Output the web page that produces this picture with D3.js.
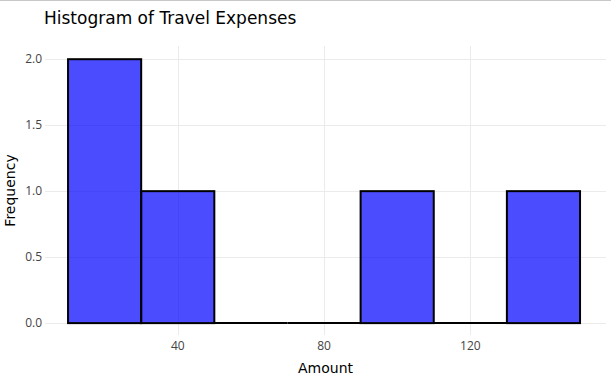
<!DOCTYPE html>
<html>
<head>
<meta charset="utf-8">
<script src="https://cdn.jsdelivr.net/npm/d3@7"></script>
<style>
  body { margin: 0; background: #fff; }
  svg { font-family: "DejaVu Sans", Verdana, sans-serif; display: block; }
  .grid line { stroke: #ebebeb; stroke-width: 1; }
  .ticklabel { fill: #444; font-size: 12px; font-family: "Open Sans", sans-serif; }
</style>
</head>
<body>
<div id="chart"></div>
<script>
// histogram bins (Amount), counts per bin
var binStarts = [10, 30, 50, 70, 90, 110, 130]
var binWidth = 20
var counts = [2, 1, 0, 0, 1, 0, 1]
var xTicks = [40, 80, 120]
var yTicks = [0, 0.5, 1, 1.5, 2]

var width = 611, height = 375
var plot = { left: 45, right: 606, top: 46, bottom: 335 }

var svg = d3.select("#chart").append("svg")
    .attr("width", width)
    .attr("height", height)

svg.append("line")
    .attr("x1", 0).attr("x2", width)
    .attr("y1", 0.5).attr("y2", 0.5)
    .style("stroke", "#c8c8c8")

var x = d3.scaleLinear().domain([3.7, 157.1]).range([plot.left, plot.right])
var y = d3.scaleLinear().domain([-0.09, 2.1]).range([plot.bottom, plot.top])

// gridlines
var grid = svg.append("g").attr("class", "grid")
grid.selectAll(".vgrid")
    .data(xTicks)
    .enter().append("line")
    .attr("class", "vgrid")
    .attr("x1", d => Math.round(x(d)) + 0.5)
    .attr("x2", d => Math.round(x(d)) + 0.5)
    .attr("y1", plot.top)
    .attr("y2", plot.bottom)
grid.selectAll(".hgrid")
    .data(yTicks)
    .enter().append("line")
    .attr("class", "hgrid")
    .attr("x1", plot.left)
    .attr("x2", plot.right)
    .attr("y1", d => Math.round(y(d)) + 0.5)
    .attr("y2", d => Math.round(y(d)) + 0.5)

// bars (zero-count bins still get their outline along the baseline)
var bins = binStarts.map((s, i) => ({ x0: s, x1: s + binWidth, count: counts[i] }))
var bars = svg.append("g")
bars.selectAll(".bar")
    .data(bins.filter(d => d.count > 0))
    .enter().append("rect")
    .attr("class", "bar")
    .attr("x", d => x(d.x0))
    .attr("width", d => x(d.x1) - x(d.x0))
    .attr("y", d => y(d.count))
    .attr("height", d => y(0) - y(d.count))
    .style("fill", "rgba(0,0,255,0.7)")
    .style("stroke", "#000")
    .style("stroke-width", 2)
bars.selectAll(".emptybin")
    .data(bins.filter(d => d.count == 0))
    .enter().append("line")
    .attr("class", "emptybin")
    .attr("x1", d => x(d.x0))
    .attr("x2", d => x(d.x1))
    .attr("y1", y(0))
    .attr("y2", y(0))
    .style("stroke", "#000")
    .style("stroke-width", 2)

// titles
svg.append("text")
    .attr("x", 44)
    .attr("y", 24)
    .style("font-size", "17px")
    .style("fill", "#000")
    .text("Histogram of Travel Expenses")

svg.append("text")
    .attr("x", (plot.left + plot.right) / 2)
    .attr("y", 373)
    .attr("text-anchor", "middle")
    .style("font-size", "14px")
    .style("fill", "#000")
    .text("Amount")

svg.append("text")
    .attr("transform", "translate(15," + (plot.top + plot.bottom) / 2 + ") rotate(-90)")
    .attr("text-anchor", "middle")
    .style("font-size", "14px")
    .style("fill", "#000")
    .text("Frequency")

// tick labels
svg.selectAll(".xlabel")
    .data(xTicks)
    .enter().append("text")
    .attr("class", "ticklabel xlabel")
    .attr("x", d => x(d))
    .attr("y", 350)
    .attr("text-anchor", "middle")
    .text(d => String(d))

svg.selectAll(".ylabel")
    .data(yTicks)
    .enter().append("text")
    .attr("class", "ticklabel ylabel")
    .attr("x", plot.left - 3)
    .attr("y", d => y(d))
    .attr("dy", "0.35em")
    .attr("text-anchor", "end")
    .text(d3.format(".1f"))
</script>
</body>
</html>
